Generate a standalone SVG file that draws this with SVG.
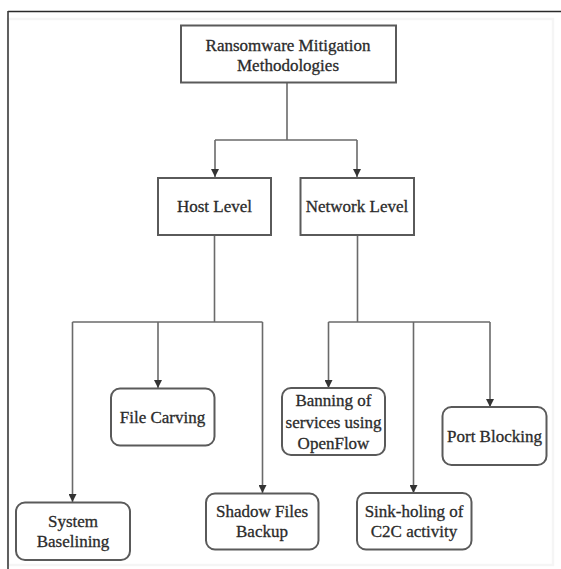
<svg xmlns="http://www.w3.org/2000/svg" width="561" height="569" viewBox="0 0 561 569">
  <style>
    .box { fill: #ffffff; stroke: #5a5a5a; stroke-width: 2; }
    .lbl { font-family: "Liberation Serif", "Times New Roman", serif; font-size: 17px; fill: #2b2b2b; stroke: #2b2b2b; stroke-width: 0.3; text-anchor: middle; }
    .wire { fill: none; stroke: #6a6a6a; stroke-width: 1.6; }
  </style>
  <defs>
    <marker id="arrow" viewBox="0 0 8 8" refX="8" refY="4" markerWidth="8" markerHeight="8" markerUnits="userSpaceOnUse" orient="auto">
      <path d="M0,0 L8,4 L0,8 Z" fill="#333333"/>
    </marker>
  </defs>

  <!-- page frame -->
  <rect x="0" y="0" width="561" height="569" fill="#ffffff"/>
  <rect x="8" y="19" width="545" height="546" fill="none" stroke="#f5f5f5" stroke-width="2.5"/>
  <line x1="8" y1="11.5" x2="561" y2="11.5" stroke="#2a2a2a" stroke-width="1.6"/>
  <line x1="8" y1="11" x2="8" y2="569" stroke="#3a3a3a" stroke-width="1.6"/>

  <!-- connectors -->
  <g id="connectors">
    <path class="wire" d="M287,82 V140"/>
    <path class="wire" d="M215,140 H357"/>
    <path class="wire" d="M215,140 V177" marker-end="url(#arrow)"/>
    <path class="wire" d="M357,140 V177" marker-end="url(#arrow)"/>

    <path class="wire" d="M214.5,235 V322"/>
    <path class="wire" d="M72.5,322 H262.5"/>
    <path class="wire" d="M72.5,322 V502" marker-end="url(#arrow)"/>
    <path class="wire" d="M158,322 V388" marker-end="url(#arrow)"/>
    <path class="wire" d="M262.5,322 V493" marker-end="url(#arrow)"/>

    <path class="wire" d="M357.5,235 V322"/>
    <path class="wire" d="M328.5,322 H490"/>
    <path class="wire" d="M328.5,322 V388" marker-end="url(#arrow)"/>
    <path class="wire" d="M413.5,322 V493" marker-end="url(#arrow)"/>
    <path class="wire" d="M490,322 V407" marker-end="url(#arrow)"/>
  </g>

  <!-- root -->
  <g id="root">
    <rect class="box" x="181" y="25.5" width="215" height="57"/>
    <text class="lbl" x="288" y="51">Ransomware Mitigation</text>
    <text class="lbl" x="288" y="71">Methodologies</text>
  </g>

  <!-- second tier -->
  <g id="host-level">
    <rect class="box" x="158" y="178" width="113" height="57"/>
    <text class="lbl" x="214.5" y="212">Host Level</text>
  </g>
  <g id="network-level">
    <rect class="box" x="300.5" y="178" width="113.5" height="57"/>
    <text class="lbl" x="357" y="212">Network Level</text>
  </g>

  <!-- host-level methods -->
  <g id="system-baselining">
    <rect class="box" x="16" y="502.5" width="114" height="57.5" rx="9"/>
    <text class="lbl" x="73" y="527">System</text>
    <text class="lbl" x="73" y="547">Baselining</text>
  </g>
  <g id="file-carving">
    <rect class="box" x="111" y="388.5" width="103.5" height="57" rx="9"/>
    <text class="lbl" x="162.5" y="423">File Carving</text>
  </g>
  <g id="shadow-files-backup">
    <rect class="box" x="206" y="493.5" width="112.5" height="56" rx="9"/>
    <text class="lbl" x="262" y="517">Shadow Files</text>
    <text class="lbl" x="262" y="537">Backup</text>
  </g>

  <!-- network-level methods -->
  <g id="banning-openflow">
    <rect class="box" x="282" y="388" width="103" height="67" rx="9"/>
    <text class="lbl" x="333.5" y="406">Banning of</text>
    <text class="lbl" x="333.5" y="428">services using</text>
    <text class="lbl" x="333.5" y="449">OpenFlow</text>
  </g>
  <g id="sink-holing">
    <rect class="box" x="357" y="493" width="114.5" height="56.5" rx="9"/>
    <text class="lbl" x="414" y="517">Sink-holing of</text>
    <text class="lbl" x="414" y="537">C2C activity</text>
  </g>
  <g id="port-blocking">
    <rect class="box" x="442.5" y="407" width="104" height="58" rx="9"/>
    <text class="lbl" x="494.5" y="441.5">Port Blocking</text>
  </g>
</svg>
